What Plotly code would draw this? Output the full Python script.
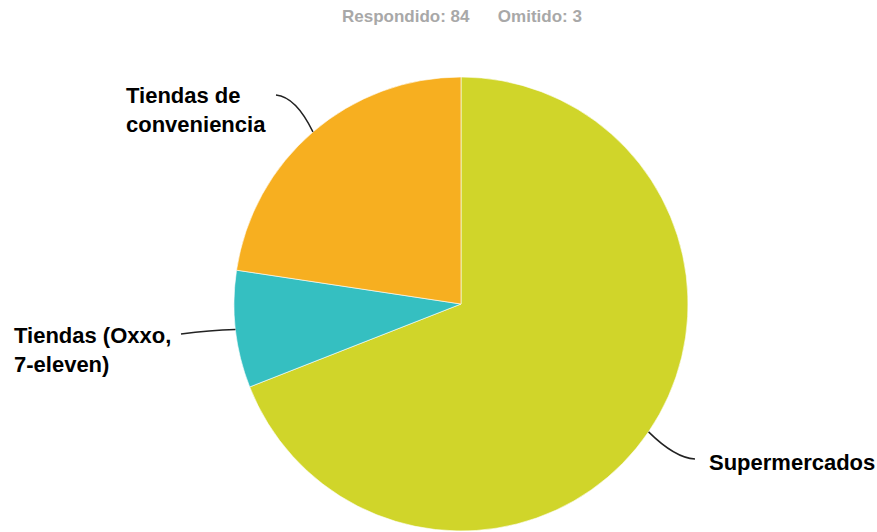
import math
import plotly.graph_objects as go

# Survey answers
categories = ["Supermercados", "Tiendas (Oxxo, 7-eleven)", "Tiendas de conveniencia"]
display_labels = ["Supermercados", "Tiendas (Oxxo,<br>7-eleven)", "Tiendas de<br>conveniencia"]
counts = [58, 7, 19]
answered = 84
skipped = 3
colors = ["#D0D52A", "#35BFC1", "#F7AF20"]

W, H = 877, 532
CX, CY, R = 461, 304, 227  # pie centre / radius in pixels


def px(x):
    return x / W


def py(y):
    return 1 - y / H


fig = go.Figure(go.Pie(
    labels=categories,
    values=counts,
    sort=False,
    direction="clockwise",
    rotation=0,
    textinfo="none",
    hoverinfo="label+percent",
    marker=dict(colors=colors, line=dict(color="white", width=0.6)),
    domain=dict(x=[px(CX - R), px(CX + R)], y=[py(CY + R), py(CY - R)]),
    showlegend=False,
))

# Label placement (text anchor, and the point where the leader line meets the text)
label_pos = [
    dict(x=707, y=462, xanchor="left", yanchor="middle", end=(695, 459), ctrl=(675, 458)),
    dict(x=12, y=350, xanchor="left", yanchor="middle", end=(181, 334), ctrl=(210, 330)),
    dict(x=124, y=110, xanchor="left", yanchor="middle", end=(276, 95), ctrl=(296, 97)),
]

total = sum(counts)
start = 0.0
shapes = []
annotations = []
for val, text, lp in zip(counts, display_labels, label_pos):
    frac = val / total
    mid = (start + frac / 2) * 2 * math.pi
    start += frac
    ex = CX + R * math.sin(mid)
    ey = CY - R * math.cos(mid)
    cx, cy = lp["ctrl"]
    lx, ly = lp["end"]
    path = (f"M {px(ex)} {py(ey)} Q {px(cx)} {py(cy)} {px(lx)} {py(ly)}")
    shapes.append(dict(type="path", xref="paper", yref="paper", path=path,
                       line=dict(color="#222222", width=1.5)))
    annotations.append(dict(
        x=px(lp["x"]), y=py(lp["y"]), xref="paper", yref="paper",
        text=f"<b>{text}</b>", showarrow=False, align="left",
        xanchor=lp["xanchor"], yanchor=lp["yanchor"],
        font=dict(family="Liberation Sans, Arial, sans-serif", size=22, color="#000000"),
    ))

sp = "&nbsp;" * 6
annotations.append(dict(
    x=px(462), y=py(16), xref="paper", yref="paper",
    text=f"<b>Respondido: {answered}{sp}Omitido: {skipped}</b>",
    showarrow=False, xanchor="center", yanchor="middle",
    font=dict(family="Liberation Sans, Arial, sans-serif", size=17, color="#A8A8A8"),
))

fig.update_layout(
    width=W, height=H,
    margin=dict(l=0, r=0, t=0, b=0),
    paper_bgcolor="white",
    plot_bgcolor="white",
    shapes=shapes,
    annotations=annotations,
)

fig.write_html("out.html")
